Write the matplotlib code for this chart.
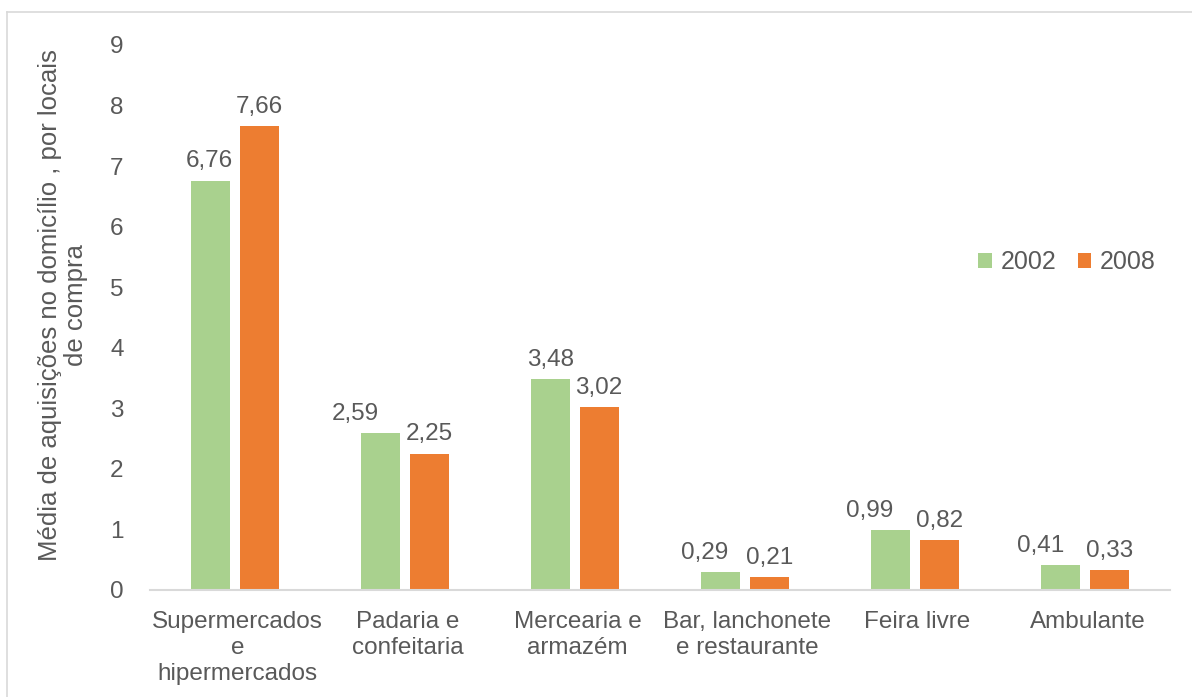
import matplotlib
matplotlib.use("Agg")
import matplotlib.pyplot as plt
from matplotlib.lines import Line2D
import numpy as np

plt.rcParams['font.family'] = ['Liberation Sans', 'DejaVu Sans']

categories = ['Supermercados\ne\nhipermercados', 'Padaria e\nconfeitaria', 'Mercearia e\narmazém',
              'Bar, lanchonete\ne restaurante', 'Feira livre', 'Ambulante']
values_2002 = [6.76, 2.59, 3.48, 0.29, 0.99, 0.41]
values_2008 = [7.66, 2.25, 3.02, 0.21, 0.82, 0.33]
series_names = ['2002', '2008']
y_ticks = [0, 1, 2, 3, 4, 5, 6, 7, 8, 9]

# horizontal nudges (pixels) of the 2002 value labels, as placed in the original
label_nudge_2002 = [-2, -26, 0, -16, -21, -20]
label_nudge_2008 = [0, 0, 0, 0, 0, 0]

GREEN = '#A9D18E'
ORANGE = '#ED7D31'
TEXT = '#595959'
GRID = '#D9D9D9'

fig = plt.figure(figsize=(11.92, 6.97), dpi=100)
ax = fig.add_axes([150/1192, 1-590/697, 1020/1192, 545/697])

x = np.arange(len(categories))
w = 0.23
off = 0.142
b1 = ax.bar(x - off, values_2002, w, color=GREEN, label=series_names[0])
b2 = ax.bar(x + off, values_2008, w, color=ORANGE, label=series_names[1])

def fmt(v):
    return f"{v:.2f}".replace('.', ',')

for bars, vals, nudges in ((b1, values_2002, label_nudge_2002), (b2, values_2008, label_nudge_2008)):
    for r, v, n in zip(bars, vals, nudges):
        ax.annotate(fmt(v), (r.get_x() + r.get_width()/2, v), xytext=(n*0.72, 6),
                    textcoords='offset points', ha='center', va='bottom',
                    fontsize=17.5, color=TEXT)

ax.set_xlim(-0.5, len(categories) - 0.5)
ax.set_ylim(0, 9)
ax.set_yticks(y_ticks)
ax.set_yticklabels([str(t) for t in y_ticks])
ax.set_xticks(x + 0.015)
ax.set_xticklabels(categories, linespacing=1.24)
ax.tick_params(axis='both', length=0, labelsize=17.5, labelcolor=TEXT)
ax.tick_params(axis='y', pad=19)
ax.tick_params(axis='x', pad=15)
for s in ('top', 'right', 'left'):
    ax.spines[s].set_visible(False)
ax.spines['bottom'].set_color(GRID)
ax.spines['bottom'].set_linewidth(1.5)

fig.text(63/1192, 1-305/697, 'Média de aquisições no domicílio , por locais\nde compra',
         rotation=90, ha='center', va='center', fontsize=18.5, color=TEXT,
         linespacing=1.12, multialignment='center')

leg = ax.legend(loc='center', bbox_to_anchor=(1067/1192, 1-262/697),
                bbox_transform=fig.transFigure, ncol=2, frameon=False,
                fontsize=18, handlelength=0.55, handleheight=0.55,
                handletextpad=0.35, columnspacing=0.85)
for t in leg.get_texts():
    t.set_color(TEXT)

fig.add_artist(Line2D([7/1192, 1.0], [1-12/697, 1-12/697], transform=fig.transFigure,
                      color=GRID, lw=1.2))
fig.add_artist(Line2D([7/1192, 7/1192], [0, 1-12/697], transform=fig.transFigure,
                      color=GRID, lw=1.2))

fig.savefig('out.png', dpi=100)
